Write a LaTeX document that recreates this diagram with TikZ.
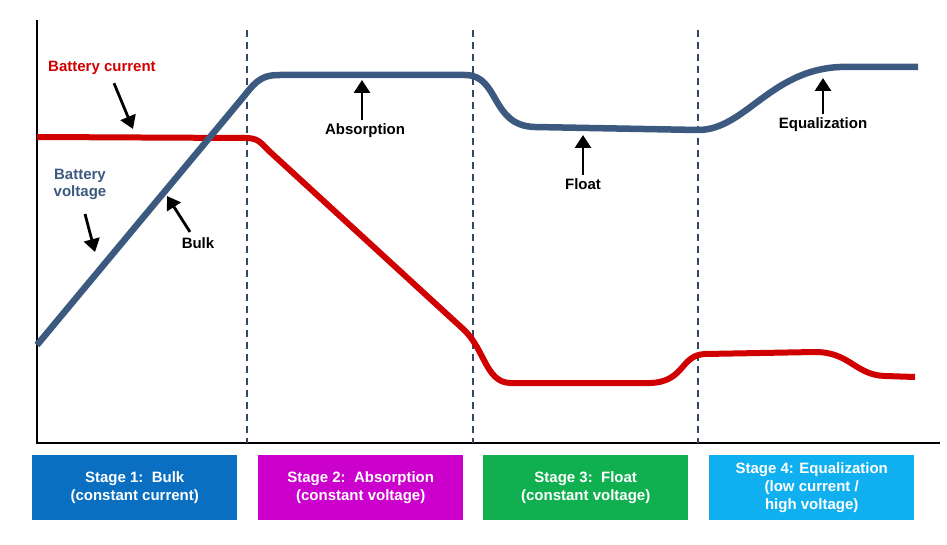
\documentclass[tikz,border=0pt]{standalone}
\usepackage{fontspec}
\setmainfont{Liberation Sans}
\usetikzlibrary{arrows.meta}
\definecolor{vblue}{HTML}{3C5A80}
\definecolor{cred}{HTML}{D00000}
\definecolor{b1}{HTML}{0A6FC0}
\definecolor{b2}{HTML}{CC00CC}
\definecolor{b3}{HTML}{10B050}
\definecolor{b4}{HTML}{10B0F0}
\tikzset{
 lbl/.style={font=\fontsize{15}{17}\selectfont\bfseries,align=center},
 stagebox/.style={minimum width=205pt,minimum height=65pt,text=white,font=\fontsize{15}{18}\selectfont\bfseries,align=center,anchor=north west,inner sep=0pt},
 callout/.style={line width=2.8pt,-{Triangle[width=16pt,length=13pt]}},
 divider/.style={dash pattern=on 7pt off 5pt,line width=1.4pt,color=vblue!80!black}
}
\begin{document}
\begin{tikzpicture}[x=1pt,y=-1pt]
\useasboundingbox (0,0) rectangle (947,545);
\draw[line width=2.8pt] (37,20) -- (37,443) -- (940,443);
\foreach \x in {247,473,698} \draw[divider] (\x,30) -- (\x,443);
\draw[cred,line width=6pt,line join=round] (37,137) -- (245,138) .. controls (258,138) and (260,142) .. (268,150) -- (462,328) .. controls (485,348) and (485,382) .. (510,383) -- (650,383) .. controls (685,382) and (680,355) .. (705,354) -- (815,352) .. controls (850,352) and (855,375) .. (885,376) -- (915,377);
\draw[vblue,line width=6.5pt,line join=round] (37,345) -- (245,95) .. controls (258,78) and (265,75) .. (280,75) -- (465,75) .. controls (500,75) and (490,126) .. (535,127) -- (698,130) .. controls (745,130) and (770,70) .. (840,67) -- (918,67);
\node[lbl,text=cred] (cl) at (102,68) {Battery current};
\node[lbl,text=vblue] (vl) at (80,184) {Battery\\voltage};
\node[lbl] (bulk) at (198,243) {Bulk};
\node[lbl] (abs) at (365,131) {Absorption};
\node[lbl] (fl) at (583,184) {Float};
\node[lbl] (eq) at (823,125) {Equalization};
\coordinate (ca) at (133,129); \coordinate (va) at (95,252); \coordinate (ba) at (167,196);
\coordinate (aa) at (362,80); \coordinate (fa) at (583,135); \coordinate (ea) at (823,78);
\draw[callout] (cl.south -| 114,0) ++(0,5) -- (ca);
\draw[callout] (85,214) -- (va);
\draw[callout] (bulk.north) ++(-8,-2) -- (ba);
\draw[callout] (abs.north -| aa) -- (aa);
\draw[callout] (fl.north) -- (fa);
\draw[callout] (eq.north) -- (ea);
\node[stagebox,fill=b1] (s1) at (32,455) {Stage 1:\ \ Bulk\\(constant current)};
\node[stagebox,fill=b2] (s2) at (258,455) {Stage 2:\ \ Absorption\\(constant voltage)};
\node[stagebox,fill=b3] (s3) at (483,455) {Stage 3:\ \ Float\\(constant voltage)};
\node[stagebox,fill=b4] (s4) at (709,455) {Stage 4: Equalization\\(low current /\\high voltage)};
\end{tikzpicture}
\end{document}
